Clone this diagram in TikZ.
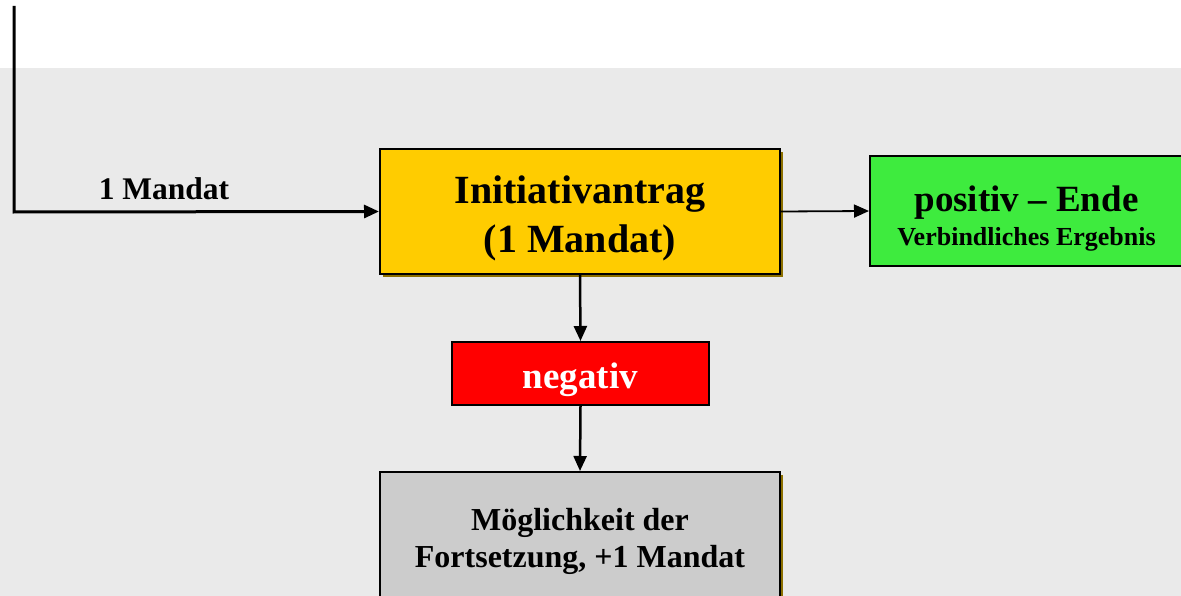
\documentclass[tikz,border=0pt]{standalone}
\usepackage{fontspec}
\setmainfont{Liberation Serif}
\usetikzlibrary{arrows.meta,shadows}
\definecolor{bgc}{HTML}{EAEAEA}
\definecolor{antragc}{HTML}{FFCC00}
\definecolor{positivc}{HTML}{3EEB3E}
\definecolor{negativc}{HTML}{FF0000}
\definecolor{weiterc}{HTML}{CCCCCC}
\colorlet{shadowc}{antragc!55!black}
\tikzstyle{box} = [
  draw=black,
  line width=2pt,
  align=center,
  inner sep=0pt,
]
\tikzstyle{boxshadow} = [
  drop shadow={shadow xshift=3pt, shadow yshift=-3pt, fill=shadowc, opacity=1},
]
\tikzstyle{flow} = [
  line width=2.5pt,
  -{Triangle[length=15pt,width=13pt]},
]

\begin{document}
\begin{tikzpicture}[x=1pt, y=-1pt]
    \useasboundingbox (0,0) rectangle (1181,596);

    % Background
    \fill[bgc] (0,68) rectangle (1181,596);

    % Boxes
    \node[box, boxshadow, fill=antragc, minimum width=400pt, text height=104pt, text depth=21pt,
      font=\fontsize{40}{50}\selectfont\bfseries] (antrag) at (580,211.5)
      {Initiativantrag\\(1 Mandat)};
    \node[box, fill=positivc, minimum width=313pt, text height=90pt, text depth=20pt,
      font=\fontsize{37}{34}\selectfont\bfseries] (positiv) at (1026.5,211)
      {positiv -- Ende\\{\fontsize{26}{26}\selectfont Verbindliches Ergebnis}};
    \node[box, fill=negativc, text=white, minimum width=257pt, text height=46pt, text depth=17pt,
      font=\fontsize{37}{40}\selectfont\bfseries] (negativ) at (580.5,373.5)
      {negativ};
    \node[box, boxshadow, fill=weiterc, minimum width=400pt, text height=95pt, text depth=41pt,
      font=\fontsize{32}{37}\selectfont\bfseries] (weiter) at (580,540)
      {Möglichkeit der\\Fortsetzung, +1 Mandat};

    % Connectors
    \coordinate (start) at (14,6);
    \coordinate (knick) at (14,212);
    \draw[flow, line width=3pt] (start) -- (knick) -- (antrag.west);
    \node[font=\fontsize{31.5}{31.5}\selectfont\bfseries, anchor=base] (mandat) at (164,200) {1 Mandat};
    \draw[flow, line width=1.8pt] (antrag.east) -- (positiv.west);
    \draw[flow] (antrag.south) -- (negativ.north);
    \draw[flow] (negativ.south) -- (weiter.north);
\end{tikzpicture}
\end{document}
